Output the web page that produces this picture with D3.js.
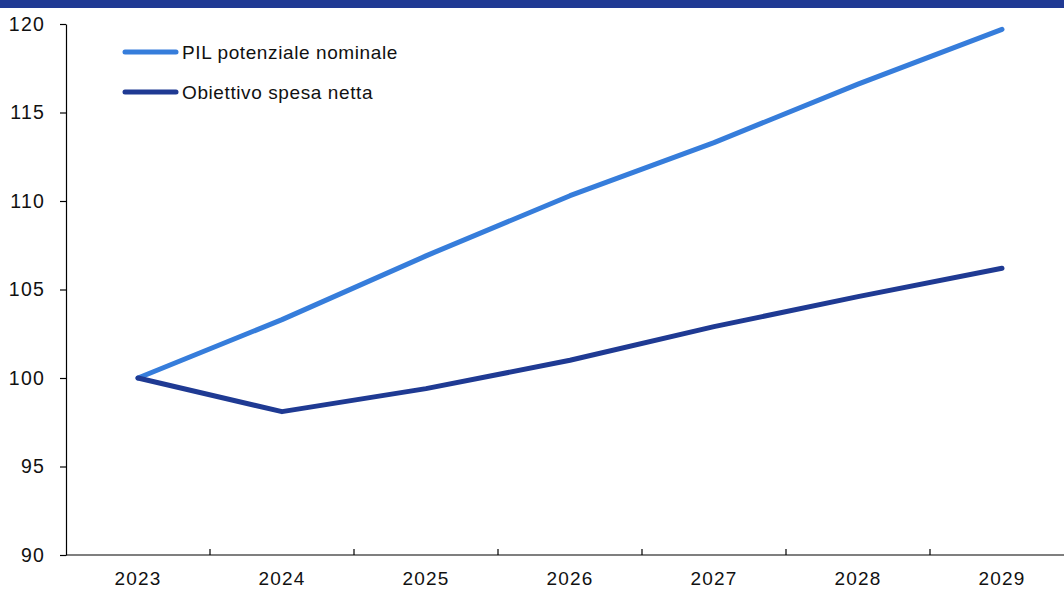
<!DOCTYPE html>
<html lang="it">
<head>
<meta charset="UTF-8">
<title>PIL potenziale vs spesa netta</title>
<script src="https://d3js.org/d3.v7.min.js"></script>
<style>
  body { margin: 0; background: #fff; }
  svg { display: block; font-family: "Liberation Sans", Arial, sans-serif; }
</style>
</head>
<body>
<svg></svg>
<script>
const years = ['2023', '2024', '2025', '2026', '2027', '2028', '2029'];
const pilPotenziale = [100, 103.3, 106.9, 110.3, 113.3, 116.6, 119.7];
const spesaNetta = [100, 98.1, 99.4, 101.0, 102.9, 104.6, 106.2];
const yTicks = [90, 95, 100, 105, 110, 115, 120];

const series = [
  {name: 'PIL potenziale nominale', values: pilPotenziale, color: '#367ddb'},
  {name: 'Obiettivo spesa netta', values: spesaNetta, color: '#1f3a93'}
];

const width = 1064, height = 590;
const margin = {top: 24, right: -10, bottom: 35, left: 66};

const svg = d3.select('svg')
  .attr('width', width)
  .attr('height', height)
  .attr('viewBox', [0, 0, width, height]);

// top band
svg.append('rect')
  .attr('x', 0).attr('y', 0)
  .attr('width', width).attr('height', 8)
  .attr('fill', '#203a94');

const x = d3.scaleBand().domain(years).range([margin.left, width - margin.right]);
const y = d3.scaleLinear().domain([90, 120]).range([height - margin.bottom, margin.top]);

// x axis: ticks at band boundaries, pointing up
const xAxis = svg.append('g')
  .attr('transform', `translate(0,${height - margin.bottom})`);
xAxis.append('line')
  .attr('x1', margin.left).attr('x2', width)
  .attr('stroke', '#000').attr('stroke-width', 1.2);
xAxis.selectAll('line.tick')
  .data(years.slice(1))
  .join('line')
  .attr('class', 'tick')
  .attr('x1', d => x(d)).attr('x2', d => x(d))
  .attr('y1', 0).attr('y2', -6)
  .attr('stroke', '#000').attr('stroke-width', 1.2);
xAxis.selectAll('text')
  .data(years)
  .join('text')
  .attr('x', d => x(d) + x.bandwidth() / 2)
  .attr('y', 30)
  .attr('text-anchor', 'middle')
  .attr('font-size', 19)
  .attr('letter-spacing', 1.2)
  .attr('fill', '#111')
  .text(d => d);

// y axis
const yAxis = svg.append('g')
  .attr('transform', `translate(${margin.left},0)`)
  .call(d3.axisLeft(y).tickValues(yTicks).tickSize(6).tickSizeOuter(0).tickPadding(15));
yAxis.select('.domain').attr('stroke', '#000').attr('stroke-width', 1.2);
yAxis.selectAll('.tick line').attr('stroke', '#000').attr('stroke-width', 1.2);
yAxis.selectAll('.tick text')
  .attr('font-size', 19.5)
  .attr('letter-spacing', 1.2)
  .attr('fill', '#111')
  .attr('font-family', '"Liberation Sans", Arial, sans-serif');

const line = d3.line()
  .x((d, i) => x(years[i]) + x.bandwidth() / 2)
  .y(d => y(d));

svg.selectAll('path.series')
  .data(series)
  .join('path')
  .attr('class', 'series')
  .attr('d', d => line(d.values))
  .attr('fill', 'none')
  .attr('stroke', d => d.color)
  .attr('stroke-width', 5)
  .attr('stroke-linejoin', 'round')
  .attr('stroke-linecap', 'round');

// legend
const legend = svg.selectAll('g.legend')
  .data(series)
  .join('g')
  .attr('class', 'legend')
  .attr('transform', (d, i) => `translate(125,${52 + i * 40})`);
legend.append('line')
  .attr('x1', 0).attr('x2', 51)
  .attr('stroke', d => d.color)
  .attr('stroke-width', 5)
  .attr('stroke-linecap', 'round');
legend.append('text')
  .attr('x', 57)
  .attr('dy', '0.35em')
  .attr('font-size', 19)
  .attr('letter-spacing', 0.6)
  .attr('fill', '#111')
  .text(d => d.name);
</script>
</body>
</html>
